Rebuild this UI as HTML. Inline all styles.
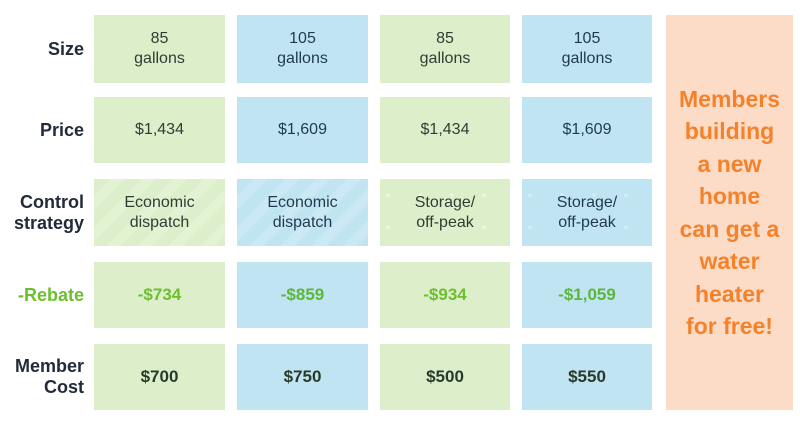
<!DOCTYPE html><html><head><style>
body{margin:0;width:800px;height:426px;background:#fff;font-family:"Liberation Sans",sans-serif;position:relative;overflow:hidden}
.c{position:absolute;display:flex;align-items:center;justify-content:center;text-align:center;font-size:16px;line-height:20px;color:#2f3d33}
.g{background:#ddefca}.b{background:#c1e4f2;color:#1f3a50}
.l{position:absolute;right:716px;text-align:right;font-weight:bold;font-size:18px;line-height:21px;color:#222b3a;display:flex;align-items:center;justify-content:flex-end}
.gs{background:repeating-linear-gradient(135deg,#ddefca 0 12px,#e3f2d3 12px 22px)}
.bs{background:repeating-linear-gradient(135deg,#c1e4f2 0 12px,#cbe9f4 12px 22px)}
.gd{background-color:#ddefca;background-image:radial-gradient(circle,#eef7e4 1.5px,transparent 2px);background-size:32px 32px;background-position:-8px 0}
.bd{background-color:#c1e4f2;background-image:radial-gradient(circle,#d6eef7 1.5px,transparent 2px);background-size:32px 32px;background-position:-8px 0}
.r{font-weight:bold;color:#6cbf2d;font-size:17px}.m{font-weight:bold;color:#2a3a2a;font-size:17px}
</style></head><body>
<div class="l" style="top:15px;height:68px">Size</div>
<div class="l" style="top:97px;height:66px">Price</div>
<div class="l" style="top:179px;height:67px">Control<br>strategy</div>
<div class="l" style="top:262px;height:66px;color:#6cbf2d">-Rebate</div>
<div class="l" style="top:344px;height:66px">Member<br>Cost</div>

<div class="c g" style="left:94px;top:15px;width:131px;height:68px">85<br>gallons</div>
<div class="c b" style="left:237px;top:15px;width:131px;height:68px">105<br>gallons</div>
<div class="c g" style="left:380px;top:15px;width:130px;height:68px">85<br>gallons</div>
<div class="c b" style="left:522px;top:15px;width:130px;height:68px">105<br>gallons</div>

<div class="c g" style="left:94px;top:97px;width:131px;height:66px">$1,434</div>
<div class="c b" style="left:237px;top:97px;width:131px;height:66px">$1,609</div>
<div class="c g" style="left:380px;top:97px;width:130px;height:66px">$1,434</div>
<div class="c b" style="left:522px;top:97px;width:130px;height:66px">$1,609</div>

<div class="c gs" style="left:94px;top:179px;width:131px;height:67px">Economic<br>dispatch</div>
<div class="c b bs" style="left:237px;top:179px;width:131px;height:67px">Economic<br>dispatch</div>
<div class="c gd" style="left:380px;top:179px;width:130px;height:67px">Storage/<br>off-peak</div>
<div class="c b bd" style="left:522px;top:179px;width:130px;height:67px">Storage/<br>off-peak</div>

<div class="c g r" style="left:94px;top:262px;width:131px;height:66px">-$734</div>
<div class="c b r" style="left:237px;top:262px;width:131px;height:66px;color:#5ab83a">-$859</div>
<div class="c g r" style="left:380px;top:262px;width:130px;height:66px">-$934</div>
<div class="c b r" style="left:522px;top:262px;width:130px;height:66px;color:#5ab83a">-$1,059</div>

<div class="c g m" style="left:94px;top:344px;width:131px;height:66px">$700</div>
<div class="c b m" style="left:237px;top:344px;width:131px;height:66px">$750</div>
<div class="c g m" style="left:380px;top:344px;width:130px;height:66px">$500</div>
<div class="c b m" style="left:522px;top:344px;width:130px;height:66px">$550</div>

<div class="c" style="left:666px;top:15px;width:127px;height:395px;background:#fcdcc7;color:#f5822a;font-weight:bold;font-size:23px;line-height:32.5px">Members<br>building<br>a new<br>home<br>can get a<br>water<br>heater<br>for free!</div>
</body></html>
